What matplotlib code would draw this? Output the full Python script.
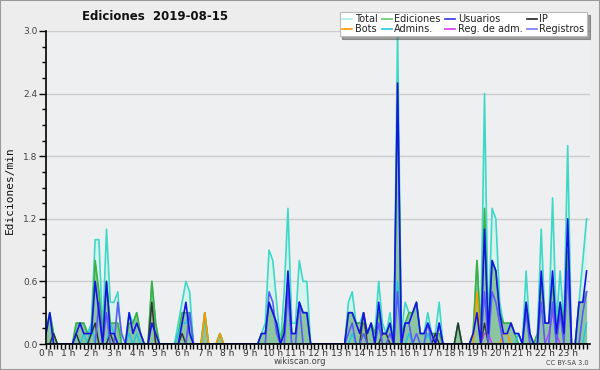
import numpy as np
import matplotlib
matplotlib.use("Agg")
import matplotlib.pyplot as plt
from matplotlib.lines import Line2D
from matplotlib.ticker import MultipleLocator, FixedLocator

# ---- data: edits per minute, 10-minute slots (6 per hour) ----
hours = [f"{h} h" for h in range(24)]

total = [
    0.1, 0.3, 0.1, 0, 0, 0,        # 0 h
    0, 0, 0.2, 0.2, 0.2, 0.1,      # 1 h
    0.2, 1.0, 1.0, 0.1, 1.1, 0.4,  # 2 h
    0.4, 0.5, 0, 0, 0.3, 0.2,      # 3 h
    0.3, 0.1, 0, 0, 0.6, 0.2,      # 4 h
    0, 0, 0, 0, 0, 0.2,            # 5 h
    0.4, 0.6, 0.5, 0, 0, 0,        # 6 h
    0.3, 0, 0, 0, 0.1, 0,          # 7 h
    0, 0, 0, 0, 0, 0,              # 8 h
    0, 0, 0, 0.1, 0.2, 0.9,        # 9 h
    0.8, 0.4, 0, 0.5, 1.3, 0.2,    # 10 h
    0.2, 0.8, 0.6, 0.6, 0, 0,      # 11 h
    0, 0, 0, 0, 0, 0,              # 12 h
    0, 0, 0.4, 0.5, 0.2, 0.2,      # 13 h
    0.3, 0.1, 0.2, 0.1, 0.6, 0.2,  # 14 h
    0.1, 0.3, 0, 3.0, 0.1, 0.4,    # 15 h
    0.3, 0.3, 0.4, 0.1, 0.1, 0.3,  # 16 h
    0.1, 0.1, 0.4, 0, 0, 0,        # 17 h
    0, 0.2, 0, 0, 0, 0.1,          # 18 h
    0.8, 0.1, 2.4, 0.1, 1.3, 1.2,  # 19 h
    0.4, 0.2, 0.2, 0.2, 0.1, 0.1,  # 20 h
    0, 0.7, 0.1, 0, 0.1, 1.1,      # 21 h
    0.2, 0.2, 1.4, 0.2, 0.7, 0.2,  # 22 h
    1.9, 0, 0, 0.4, 0.8, 1.2,      # 23 h
]

ediciones = [
    0.1, 0.3, 0.1, 0, 0, 0,
    0, 0, 0.2, 0.2, 0.2, 0.1,
    0.1, 0.8, 0.5, 0.1, 0.6, 0.2,
    0.2, 0.2, 0, 0, 0.2, 0.2,
    0.3, 0.1, 0, 0, 0.6, 0.2,
    0, 0, 0, 0, 0, 0.1,
    0.3, 0.3, 0.3, 0, 0, 0,
    0.3, 0, 0, 0, 0.1, 0,
    0, 0, 0, 0, 0, 0,
    0, 0, 0, 0.1, 0.1, 0.4,
    0.3, 0.2, 0, 0.2, 0.6, 0.1,
    0.1, 0.4, 0.3, 0.3, 0, 0,
    0, 0, 0, 0, 0, 0,
    0, 0, 0.3, 0.3, 0.2, 0.2,
    0.2, 0.1, 0.2, 0.1, 0.3, 0.1,
    0.1, 0.2, 0, 2.5, 0.1, 0.2,
    0.3, 0.3, 0.4, 0.1, 0.1, 0.1,
    0.1, 0.1, 0.1, 0, 0, 0,
    0, 0.2, 0, 0, 0, 0.1,
    0.8, 0.1, 1.3, 0.1, 0.8, 0.7,
    0.3, 0.2, 0.2, 0.2, 0.1, 0,
    0, 0.4, 0.1, 0, 0.1, 0.6,
    0.2, 0.2, 0.6, 0.1, 0.4, 0.2,
    0.9, 0, 0, 0.4, 0.4, 0.5,
]

usuarios = [
    0.1, 0.3, 0, 0, 0, 0,
    0, 0, 0.1, 0.2, 0.1, 0.1,
    0.1, 0.6, 0.3, 0, 0.6, 0.1,
    0.1, 0, 0, 0, 0.3, 0.1,
    0.2, 0.1, 0, 0, 0.2, 0.1,
    0, 0, 0, 0, 0, 0,
    0.2, 0.4, 0.1, 0, 0, 0,
    0, 0, 0, 0, 0, 0,
    0, 0, 0, 0, 0, 0,
    0, 0, 0, 0.1, 0.1, 0.4,
    0.3, 0.2, 0, 0.1, 0.7, 0.1,
    0.1, 0.4, 0.3, 0.3, 0, 0,
    0, 0, 0, 0, 0, 0,
    0, 0, 0.3, 0.3, 0.2, 0.1,
    0.3, 0.1, 0.2, 0, 0.4, 0.1,
    0.1, 0.2, 0, 2.5, 0, 0.2,
    0.2, 0.3, 0.4, 0.1, 0.1, 0.2,
    0.1, 0, 0.2, 0, 0, 0,
    0, 0, 0, 0, 0, 0.1,
    0.3, 0, 1.1, 0.1, 0.8, 0.7,
    0.3, 0.1, 0.1, 0.2, 0.1, 0.1,
    0, 0.4, 0.1, 0, 0, 0.7,
    0.2, 0.2, 0.7, 0.1, 0.4, 0.1,
    1.2, 0, 0, 0.4, 0.4, 0.7,
]

registros = [
    0, 0, 0, 0, 0, 0,
    0, 0, 0, 0, 0, 0,
    0, 0, 0.4, 0, 0.3, 0,
    0, 0.4, 0.1, 0, 0, 0,
    0, 0, 0, 0, 0, 0,
    0, 0, 0, 0, 0, 0,
    0, 0, 0.3, 0, 0, 0,
    0, 0, 0, 0, 0, 0,
    0, 0, 0, 0, 0, 0,
    0, 0, 0, 0, 0, 0.5,
    0.4, 0.1, 0, 0, 0.5, 0,
    0, 0.4, 0, 0, 0, 0,
    0, 0, 0, 0, 0, 0,
    0, 0, 0.1, 0.2, 0, 0,
    0.1, 0, 0, 0, 0.2, 0,
    0, 0.1, 0, 0.5, 0, 0.2,
    0.2, 0, 0.1, 0, 0, 0.2,
    0, 0, 0.2, 0, 0, 0,
    0, 0, 0, 0, 0, 0,
    0, 0, 0.5, 0, 0.5, 0.4,
    0.2, 0, 0, 0, 0, 0,
    0, 0.3, 0, 0, 0, 0.4,
    0, 0, 0.4, 0, 0.3, 0,
    0.7, 0, 0, 0, 0.3, 0.5,
]

ip = [
    0, 0, 0.1, 0, 0, 0,
    0, 0, 0.1, 0, 0, 0,
    0.1, 0.2, 0, 0, 0, 0.1,
    0, 0, 0, 0, 0, 0,
    0, 0, 0, 0, 0.4, 0,
    0, 0, 0, 0, 0, 0,
    0.1, 0, 0, 0, 0, 0,
    0, 0, 0, 0, 0, 0,
    0, 0, 0, 0, 0, 0,
    0, 0, 0, 0, 0, 0,
    0, 0, 0, 0, 0, 0,
    0, 0, 0, 0, 0, 0,
    0, 0, 0, 0, 0, 0,
    0, 0, 0, 0, 0, 0,
    0.3, 0, 0, 0, 0, 0.1,
    0.1, 0, 0, 0, 0, 0,
    0, 0, 0, 0, 0, 0,
    0, 0.1, 0, 0, 0, 0,
    0, 0.2, 0, 0, 0, 0,
    0, 0, 0.2, 0, 0, 0,
    0, 0, 0, 0, 0, 0,
    0, 0, 0, 0, 0, 0,
    0, 0, 0, 0, 0, 0,
    0, 0, 0, 0, 0, 0,
]

admins = [
    0, 0, 0, 0, 0, 0,
    0, 0, 0.1, 0, 0.1, 0,
    0.2, 0, 0, 0, 0, 0.2,
    0.1, 0, 0, 0, 0.1, 0,
    0.1, 0, 0, 0, 0, 0,
    0, 0, 0, 0, 0, 0.1,
    0.2, 0.2, 0.3, 0, 0, 0,
    0, 0, 0, 0, 0, 0,
    0, 0, 0, 0, 0, 0,
    0, 0, 0, 0, 0, 0,
    0, 0, 0, 0, 0, 0,
    0, 0, 0, 0, 0, 0,
    0, 0, 0, 0, 0, 0,
    0, 0, 0, 0.1, 0, 0,
    0, 0, 0, 0, 0.2, 0,
    0, 0, 0, 0.6, 0, 0,
    0.1, 0, 0, 0, 0, 0.1,
    0, 0, 0, 0, 0, 0,
    0, 0, 0, 0, 0, 0,
    0, 0, 0, 0, 0, 0,
    0, 0, 0, 0, 0, 0.1,
    0, 0, 0, 0, 0, 0,
    0, 0, 0, 0, 0, 0,
    0, 0, 0, 0, 0, 0.2,
]

bots = [0.0] * 144
bots_points = {42: 0.3, 46: 0.1, 114: 0.5, 121: 0.1, 122: 0.1}
reg_adm = [0.0] * 144
reg_adm_points = {116: 0.1, 117: 0.1, 133: 0.1, 134: 0.3, 135: 0.1}
for k, v in bots_points.items():
    bots[k] = v
for k, v in reg_adm_points.items():
    reg_adm[k] = v

x = np.arange(len(total)) / 6.0

# ---- figure ----
W, H = 600, 370
fig = plt.figure(figsize=(W / 100, H / 100), dpi=100, facecolor="#EDEDED")
ax = fig.add_axes([46 / W, 1 - 344 / H, (590 - 46) / W, (344 - 31) / H])
ax.set_facecolor("#EEEFF1")

c_total = "#3ED8C8"
c_edic = "#3CB043"
c_usu = "#1414E6"
c_ip = "#333333"
c_bots = "#FF9900"
c_adm = "#22C8E0"
c_regadm = "#CC44EE"
c_reg = "#5B5BF8"

ax.fill_between(x, total, color="#D6F2EC", lw=0, zorder=1)
ax.fill_between(x, ediciones, color="#8CC6A0", lw=0, zorder=2)
ax.plot(x, total, color=c_total, lw=1.2, zorder=3)
ax.plot(x, ediciones, color=c_edic, lw=1.2, zorder=4)
ax.plot(x, admins, color=c_adm, lw=1.1, zorder=5)
ax.plot(x, bots, color=c_bots, lw=1.1, zorder=5)
ax.plot(x, reg_adm, color=c_regadm, lw=1.1, zorder=5)
ax.plot(x, ip, color=c_ip, lw=1.1, zorder=6)
ax.plot(x, registros, color=c_reg, lw=1.2, zorder=6)
ax.plot(x, usuarios, color=c_usu, lw=1.2, zorder=7)

ax.set_xlim(0, 143.9 / 6)
ax.set_ylim(0, 3.0)
yt = np.arange(0, 3.01, 0.6)
ax.set_yticks(yt)
ax.set_yticklabels([f"{v:.1f}" for v in yt])
ax.yaxis.set_minor_locator(MultipleLocator(0.15))
ax.xaxis.set_major_locator(FixedLocator(range(24)))
ax.set_xticklabels(hours)
ax.xaxis.set_minor_locator(MultipleLocator(1 / 6))
ax.grid(axis="y", color="#CCCCCC", lw=1)
ax.set_axisbelow(True)
for s in ["top", "right"]:
    ax.spines[s].set_visible(False)
for s in ["left", "bottom"]:
    ax.spines[s].set_color("black")
    ax.spines[s].set_linewidth(1.2)
    ax.spines[s].set_zorder(10)
ax.tick_params(axis="y", which="major", length=5, width=1, labelsize=6.5,
               labelcolor="#444444", pad=1)
ax.tick_params(axis="y", which="minor", length=3, width=1)
ax.tick_params(axis="x", which="major", length=3.5, width=1, labelsize=6.5,
               labelcolor="#333333", pad=0)
ax.tick_params(axis="x", which="minor", length=3.5, width=1)

fig.text(155 / W, 1 - 17 / H, "Ediciones  2019-08-15", ha="center", va="center",
         fontsize=8.5, fontweight="bold", color="#111111")
fig.text(10 / W, 1 - 190 / H, "Ediciones/min", rotation=90, ha="center",
         va="center", fontsize=8, family="DejaVu Sans Mono", color="#111111")
fig.text(300 / W, 1 - 362 / H, "wikiscan.org", ha="center", va="center",
         fontsize=6, color="#444444")
fig.text(589 / W, 1 - 363 / H, "CC BY-SA 3.0", ha="right", va="center",
         fontsize=4.8, color="#444444")

handles = [
    Line2D([], [], color="#A8ECE6", lw=1.2),
    Line2D([], [], color=c_bots, lw=1.2),
    Line2D([], [], color="#66CC66", lw=1.2),
    Line2D([], [], color=c_adm, lw=1.2),
    Line2D([], [], color="#3333EE", lw=1.2),
    Line2D([], [], color="#DD33EE", lw=1.2),
    Line2D([], [], color="#222222", lw=1.2),
    Line2D([], [], color="#7777FF", lw=1.2),
]
labels = ["Total", "Bots", "Ediciones", "Admins.", "Usuarios", "Reg. de adm.",
          "IP", "Registros"]
leg = fig.legend(handles, labels, ncol=4, loc="upper right",
                 bbox_to_anchor=(587 / W, 1 - 12 / H), fontsize=7,
                 frameon=True, fancybox=False, shadow=True,
                 handlelength=1.0, handletextpad=0.3, columnspacing=0.45,
                 labelspacing=-0.05, borderpad=0.25, borderaxespad=0)
leg.get_frame().set_edgecolor("#BBBBBB")
leg.get_frame().set_linewidth(0.8)
for t in leg.get_texts():
    t.set_color("#222222")

# outer border
fig.patches.append(plt.Rectangle((0, 0), 1, 1, transform=fig.transFigure,
                                 fill=False, edgecolor="#999999", lw=1.5))

fig.savefig("out.png", dpi=100, facecolor=fig.get_facecolor())
